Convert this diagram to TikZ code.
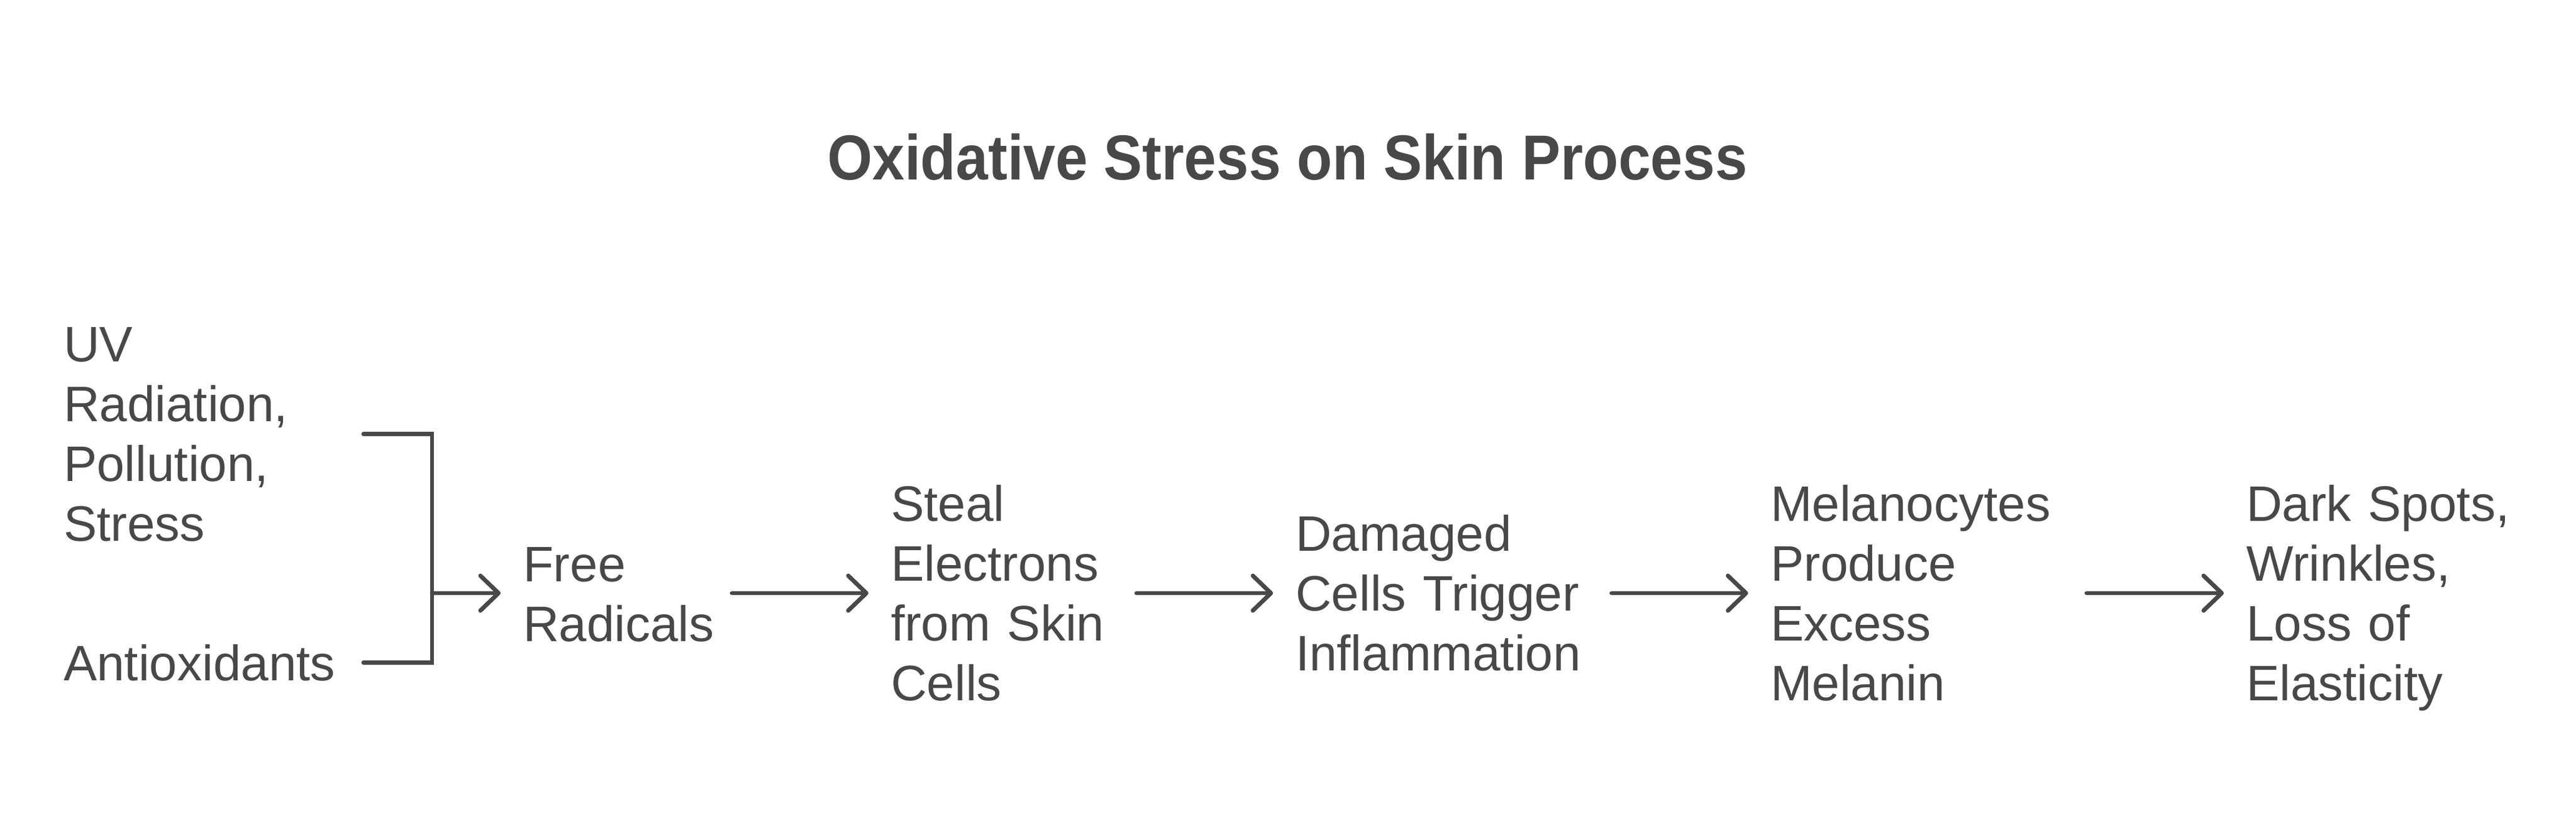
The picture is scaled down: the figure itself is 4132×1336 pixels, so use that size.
\documentclass[tikz,border=0pt]{standalone}
\usepackage{fontspec}
\setmainfont{Liberation Sans}
\newfontfamily\titlefont[FakeStretch=0.91]{Liberation Sans}
\usetikzlibrary{arrows.meta}
\definecolor{ink}{RGB}{72,72,72}
\begin{document}
\begin{tikzpicture}[x=0.1pt,y=-0.1pt,
  lbl/.style={anchor=base west, inner sep=0pt, outer sep=0pt, align=left, text=ink, font=\fontsize{8}{9.6}\selectfont},
  conn/.style={draw=ink, line width=0.68pt, line cap=round},
  arr/.style={conn, -{Straight Barb[length=2.9pt,width=5.6pt,round]}, shorten >=3.6pt}]
\useasboundingbox (0,0) rectangle (4132,1336);
\node[anchor=base, inner sep=0pt, text=ink, font=\titlefont\bfseries\fontsize{10.2}{12}\selectfont] (title) at (2065,288) {Oxidative Stress on Skin Process};
\node[lbl, text width=48.1pt] (inputs) at (102,580) {UV\\Radiation,\\Pollution,\\Stress};
\node[lbl, text width=48.1pt] (anti) at (102,1092) {Antioxidants};
\node[lbl, text width=33.5pt] (free) at (839,933) {Free\\Radicals};
\node[lbl, text width=39.4pt] (steal) at (1429,836) {Steal\\Electrons\\from Skin\\Cells};
\node[lbl, text width=50.7pt] (damaged) at (2078,884) {Damaged\\Cells Trigger\\Inflammation};
\node[lbl, text width=50.7pt] (melano) at (2840,836) {Melanocytes\\Produce\\Excess\\Melanin};
\node[lbl, text width=43pt] (dark) at (3603,836) {Dark Spots,\\Wrinkles,\\Loss of\\Elasticity};
\coordinate (jn) at (693,952);
\draw[conn] (inputs.east) -| (jn);
\draw[conn] (anti.east) -| (jn);
\draw[arr] (jn) -- (free.west |- jn);
\draw[arr] (free.east |- jn) -- (steal.west |- jn);
\draw[arr] (steal.east |- jn) -- (damaged.west |- jn);
\draw[arr] (damaged.east |- jn) -- (melano.west |- jn);
\draw[arr] (melano.east |- jn) -- (dark.west |- jn);
\end{tikzpicture}
\end{document}
